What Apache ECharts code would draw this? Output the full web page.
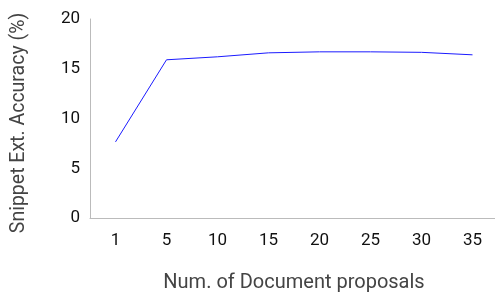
<!DOCTYPE html>
<html lang="en">
<head>
    <meta charset="UTF-8">
    <title>Snippet accuracy</title>
    <script src="https://cdn.jsdelivr.net/npm/echarts@6/dist/echarts.min.js"></script>
    <style>
        html, body { margin: 0; padding: 0; background: #fff; }
        #chart { width: 495px; height: 293px; }
    </style>
</head>
<body>
<div id="chart"></div>
<script type="text/javascript">
    var proposals = ['1', '5', '10', '15', '20', '25', '30', '35'];
    var accuracy = [7.65, 15.9, 16.2, 16.6, 16.7, 16.7, 16.65, 16.4];
    var yTicks = [0, 5, 10, 15, 20];

    var myChart = echarts.init(document.getElementById('chart'));
    var option = {
        animation: false,
        grid: {left: 90, top: 19, width: 408, bottom: 75, outerBoundsMode: 'none', containLabel: false},
        xAxis: {
            type: 'category',
            data: proposals,
            name: 'Num. of Document proposals',
            nameLocation: 'middle',
            nameGap: 55,
            nameTextStyle: {fontFamily: 'Roboto', fontSize: 20, color: '#444'},
            axisLine: {lineStyle: {color: '#bbb'}},
            axisTick: {alignWithLabel: true, length: 3, lineStyle: {color: '#bbb'}},
            axisLabel: {fontFamily: 'Roboto', fontSize: 17, color: '#111', margin: 14}
        },
        yAxis: {
            type: 'value',
            min: yTicks[0],
            max: yTicks[yTicks.length - 1],
            interval: 5,
            name: 'Snippet Ext. Accuracy (%)',
            nameLocation: 'middle',
            nameGap: 61,
            nameTextStyle: {fontFamily: 'Roboto', fontSize: 19.5, color: '#444', padding: [0, 9, 0, 0]},
            axisLine: {show: true, lineStyle: {color: '#bbb'}},
            axisTick: {show: false},
            splitLine: {show: false},
            axisLabel: {fontFamily: 'Roboto', fontSize: 17, color: '#111', margin: 10}
        },
        series: [{
            type: 'line',
            data: accuracy,
            symbol: 'none',
            lineStyle: {color: '#1a1aff', width: 1}
        }]
    };
    myChart.setOption(option);
</script>
</body>
</html>
